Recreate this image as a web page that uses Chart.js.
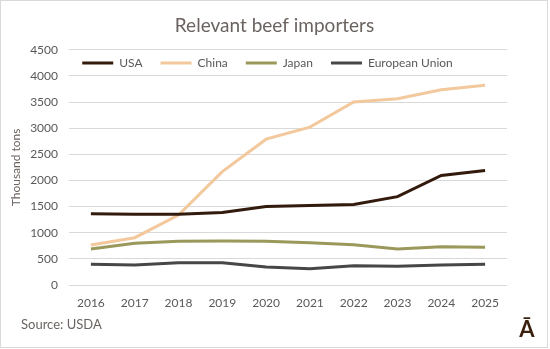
<!DOCTYPE html>
<html>
<head>
<meta charset="utf-8">
<script src="https://cdn.jsdelivr.net/npm/chart.js@4/dist/chart.umd.min.js"></script>
<style>
  html, body { margin: 0; padding: 0; background: #fff; }
  #wrap { width: 546px; height: 346px; border: 1px solid #d9d9d9; position: relative; }
  canvas { display: block; }
</style>
</head>
<body>
<div id="wrap"><canvas id="beefChart" width="546" height="346"></canvas></div>
<script>
// 데이터
const years = ['2016', '2017', '2018', '2019', '2020', '2021', '2022', '2023', '2024', '2025'];
const usa   = [1365, 1355, 1355, 1385, 1500, 1520, 1540, 1690, 2095, 2190];
const china = [765, 905, 1340, 2170, 2790, 3020, 3500, 3565, 3735, 3820];
const japan = [690, 798, 836, 842, 836, 810, 772, 690, 734, 721];
const eu    = [396, 383, 427, 427, 345, 313, 370, 357, 383, 396];
const seriesNames = ['USA', 'China', 'Japan', 'European Union'];
const seriesColors = ['#321a0c', '#f2c89c', '#9a985a', '#474747'];

const textColor = '#6b6360';
const fontFamily = 'Lato, "Open Sans", sans-serif';

// 범례를 플롯 영역 안으로 + 출처/로고
const extrasPlugin = {
  id: 'extras',
  beforeUpdate(chart) {
    const lg = chart.legend;
    if (lg && !lg._patched) {
      const fit = lg.fit;
      lg.fit = function () { fit.call(this); this.height = 0; };
      lg._patched = true;
    }
  },
  afterLayout(chart) {
    const lg = chart.legend;
    if (lg) {
      lg.top = 38;
      lg.bottom = 78;
      lg.height = 40;
      lg.left += 10;
      lg.right += 10;
    }
    // 제목은 캔버스 전체 기준 가운데
    const tb = chart.titleBlock;
    if (tb) {
      tb.left += 17;
      tb.right += 17;
    }
  },
  afterDraw(chart) {
    const ctx = chart.ctx;
    ctx.save();
    ctx.fillStyle = textColor;
    ctx.font = '13px ' + fontFamily;
    ctx.textBaseline = 'middle';
    ctx.textAlign = 'left';
    ctx.fillText('Source: USDA', 20, 324);
    ctx.fillStyle = '#3a1f0f';
    ctx.font = 'bold 22px ' + fontFamily;
    ctx.textAlign = 'center';
    ctx.textBaseline = 'alphabetic';
    ctx.fillText('Ā', 526, 336);
    ctx.restore();
  }
};

const makeSet = (label, data, color) => ({
  label, data,
  borderColor: color,
  backgroundColor: color,
  borderWidth: 3,
  pointRadius: 0,
  pointHoverRadius: 0,
  tension: 0,
  fill: false
});

new Chart(document.getElementById('beefChart'), {
  type: 'line',
  data: {
    labels: years,
    datasets: [
      makeSet(seriesNames[0], usa, seriesColors[0]),
      makeSet(seriesNames[1], china, seriesColors[1]),
      makeSet(seriesNames[2], japan, seriesColors[2]),
      makeSet(seriesNames[3], eu, seriesColors[3])
    ]
  },
  options: {
    responsive: false,
    animation: false,
    layout: { padding: { left: 7, right: 40, top: 0, bottom: 32 } },
    plugins: {
      title: {
        display: true,
        text: 'Relevant beef importers',
        color: textColor,
        font: { family: fontFamily, size: 19, weight: 'normal' },
        padding: { top: 13, bottom: 13 }
      },
      legend: {
        position: 'top',
        align: 'center',
        labels: {
          usePointStyle: true,
          pointStyle: 'line',
          pointStyleWidth: 31,
          boxHeight: 12,
          padding: 18,
          color: '#595959',
          font: { family: fontFamily, size: 12 }
        }
      },
      tooltip: { enabled: false }
    },
    scales: {
      x: {
        offset: true,
        grid: { display: false, drawTicks: false },
        border: { display: false },
        ticks: { color: '#595959', padding: 11, font: { family: fontFamily, size: 12 } },
        afterFit(scale) { scale.height = 30; }
      },
      y: {
        min: 0,
        max: 4500,
        ticks: {
          stepSize: 500,
          color: '#595959',
          padding: 11,
          font: { family: fontFamily, size: 12 },
          callback: v => String(v)
        },
        grid: { color: '#d9d9d9', drawTicks: false, lineWidth: 1 },
        border: { display: false },
        title: {
          display: true,
          text: 'Thousand tons',
          color: textColor,
          font: { family: fontFamily, size: 12 },
          padding: { top: 1, bottom: 0 }
        },
        afterFit(scale) { scale.width = 61; }
      }
    }
  },
  plugins: [extrasPlugin]
});
</script>
</body>
</html>
